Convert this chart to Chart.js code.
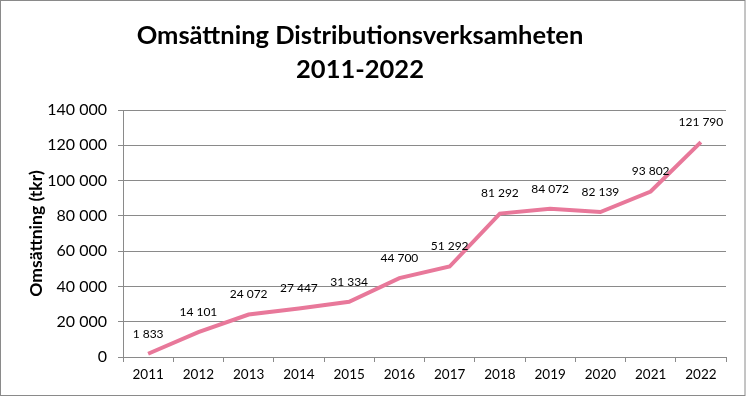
<!DOCTYPE html>
<html>
<head>
<meta charset="utf-8">
<script src="https://cdn.jsdelivr.net/npm/chart.js@4"></script>
<style>
  html, body { margin: 0; padding: 0; background: #fff; }
  #wrap { width: 746px; height: 397px; }
</style>
</head>
<body>
<div id="wrap"><canvas id="grafico" width="746" height="397"></canvas></div>
<script>
const years = ['2011', '2012', '2013', '2014', '2015', '2016', '2017', '2018', '2019', '2020', '2021', '2022'];
const omsattning = [1833, 14101, 24072, 27447, 31334, 44700, 51292, 81292, 84072, 82139, 93802, 121790];
const titleLines = ['Omsättning Distributionsverksamheten', '2011-2022'];

const fmt = v => String(v).replace(/\B(?=(\d{3})+(?!\d))/g, ' ');

// etiketter ovanför punkterna + ram + rubrik
const extras = {
    id: 'extras',
    beforeDraw(chart) {
        const ctx = chart.ctx;
        ctx.save();
        ctx.fillStyle = '#fff';
        ctx.fillRect(0, 0, chart.width, chart.height);
        ctx.restore();
    },
    afterDraw(chart) {
        const ctx = chart.ctx;
        ctx.save();
        ctx.fillStyle = '#000';
        ctx.textAlign = 'center';
        ctx.textBaseline = 'alphabetic';
        ctx.font = 'bold 25.5px Lato';
        ctx.fillText(titleLines[0], 360, 44);
        ctx.fillText(titleLines[1], 360, 78);

        ctx.font = '12px Lato';
        ctx.textBaseline = 'middle';
        const meta = chart.getDatasetMeta(0);
        meta.data.forEach((pt, i) => {
            ctx.fillText(fmt(omsattning[i]), pt.x, pt.y - 20);
        });

        ctx.strokeStyle = '#8a8a8a';
        ctx.lineWidth = 1;
        ctx.strokeRect(0.5, 0.5, chart.width - 1.5, chart.height - 2);
        ctx.restore();
    }
};

new Chart(document.getElementById('grafico').getContext('2d'), {
    type: 'line',
    data: {
        labels: years,
        datasets: [{
            data: omsattning,
            borderColor: '#e8789a',
            borderWidth: 4,
            pointRadius: 0,
            tension: 0,
            fill: false
        }]
    },
    options: {
        responsive: false,
        animation: false,
        layout: { padding: { top: 110, right: 20, left: 0, bottom: 0 } },
        plugins: {
            legend: { display: false },
            title: { display: false },
            tooltip: { enabled: false }
        },
        scales: {
            x: {
                offset: true,
                grid: {
                    offset: true,
                    drawOnChartArea: false,
                    drawTicks: true,
                    tickLength: 5,
                    color: '#8a8a8a'
                },
                border: { color: '#8a8a8a' },
                ticks: { color: '#000', font: { family: 'Lato', size: 13.5 }, padding: 5 },
                afterFit(scale) { scale.height = 40; }
            },
            y: {
                min: 0,
                max: 140000,
                ticks: {
                    stepSize: 20000,
                    color: '#000',
                    font: { family: 'Lato', size: 16 },
                    padding: 11,
                    callback: v => fmt(v)
                },
                grid: { color: '#8a8a8a', tickLength: 5 },
                border: { color: '#8a8a8a' },
                title: {
                    display: true,
                    text: 'Omsättning (tkr)',
                    color: '#000',
                    font: { family: 'Lato', size: 17.5, weight: 'bold' },
                    padding: { top: 26, bottom: 0 }
                },
                afterFit(scale) { scale.width = 123; }
            }
        }
    },
    plugins: [extras]
});
</script>
</body>
</html>
